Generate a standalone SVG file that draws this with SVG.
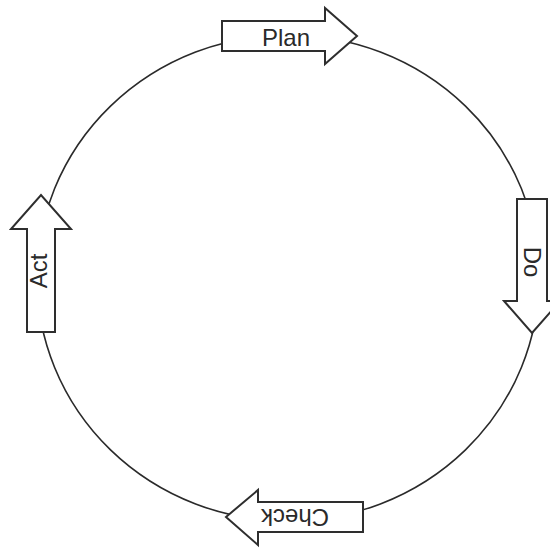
<svg xmlns="http://www.w3.org/2000/svg" width="550" height="548" viewBox="0 0 550 548">
  <style>
    .cycle { fill: none; stroke: #2a2a2a; stroke-width: 1.6; }
    .arrow { fill: #ffffff; stroke: #2e2e2e; stroke-width: 2; stroke-linejoin: miter; }
    .label { font-family: "Liberation Sans", Arial, sans-serif; font-size: 24px; fill: #2a2a2a; text-anchor: middle; dominant-baseline: central; }
  </style>
  <rect width="550" height="548" fill="#ffffff"/>
  <g id="connectors">
    <ellipse class="cycle" cx="288" cy="278" rx="251" ry="243"/>
  </g>
  <g id="plan">
    <polygon class="arrow" points="222,21 325,21 325,8 357,36 325,64 325,51 222,51"/>
    <text class="label" x="286" y="37">Plan</text>
  </g>
  <g id="do">
    <polygon class="arrow" points="517,199 547,199 547,301 560,301 532,333 504,301 517,301"/>
    <text class="label" x="532" y="262" transform="rotate(90 532 262)">Do</text>
  </g>
  <g id="check">
    <polygon class="arrow" points="363,502 363,532 258,532 258,545 226,517 258,490 258,502"/>
    <text class="label" x="295" y="517" transform="rotate(180 295 517)">Check</text>
  </g>
  <g id="act">
    <polygon class="arrow" points="27,332 27,229 11,229 41,195 71,229 55,229 55,332"/>
    <text class="label" x="38" y="271" transform="rotate(-90 38 271)">Act</text>
  </g>
</svg>
